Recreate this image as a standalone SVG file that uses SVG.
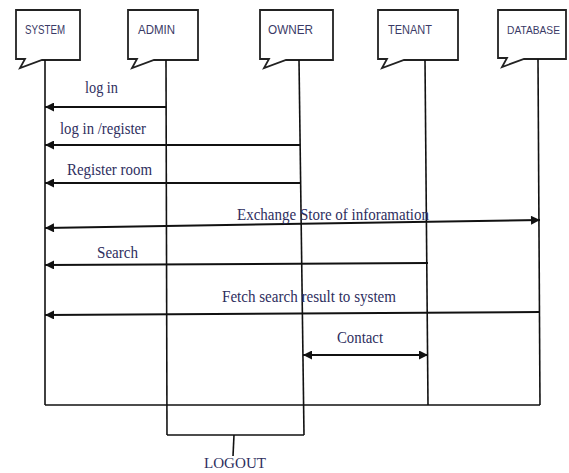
<svg xmlns="http://www.w3.org/2000/svg" width="569" height="473" viewBox="0 0 569 473">
<style>
.box{fill:#fff;stroke:#222;stroke-width:1.8;stroke-linejoin:miter}
.life{stroke:#111;stroke-width:1.6;fill:none}
.msg{stroke:#111;stroke-width:2;fill:none}
.nl{font-family:"Liberation Sans",Arial,sans-serif;font-size:13px;fill:#3a3a66}
.ml{font-family:"Liberation Serif","Times New Roman",serif;font-size:16px;fill:#2e2e5e}
</style>
<defs>
<marker id="ah" viewBox="0 0 10 10" refX="10" refY="5" markerWidth="10" markerHeight="9" markerUnits="userSpaceOnUse" orient="auto-start-reverse">
<path d="M0,0 L10,5 L0,10 Z" fill="#111"/>
</marker>
</defs>
<rect width="569" height="473" fill="#fff"/>
<g id="system">
<path class="box" d="M16,10 H80 V60 H42 L20,68 L25,59 H16 Z"/>
<text class="nl" x="25" y="34" textLength="40" lengthAdjust="spacingAndGlyphs">SYSTEM</text>
</g>
<g id="admin">
<path class="box" d="M128,10 H198 V60 H154 L132,68 L137,59 H128 Z"/>
<text class="nl" x="138" y="34" textLength="37" lengthAdjust="spacingAndGlyphs">ADMIN</text>
</g>
<g id="owner">
<path class="box" d="M260,10 H333 V60 H286 L264,68 L269,59 H260 Z"/>
<text class="nl" x="268" y="34" textLength="45" lengthAdjust="spacingAndGlyphs">OWNER</text>
</g>
<g id="tenant">
<path class="box" d="M378,10 H458 V60 H404 L382,68 L387,59 H378 Z"/>
<text class="nl" x="388" y="34" textLength="44" lengthAdjust="spacingAndGlyphs">TENANT</text>
</g>
<g id="database">
<path class="box" d="M498,10 H566 V59 H524 L502,67 L507,58 H498 Z"/>
<text class="nl" x="507" y="34" style="font-size:11px" textLength="53" lengthAdjust="spacingAndGlyphs">DATABASE</text>
</g>
<g id="lifelines">
<line class="life" x1="45" y1="60" x2="45" y2="405"/>
<line class="life" x1="166" y1="60" x2="167" y2="435"/>
<line class="life" x1="299" y1="60" x2="304" y2="435"/>
<line class="life" x1="425" y1="60" x2="428" y2="405"/>
<line class="life" x1="538" y1="59" x2="540" y2="405"/>
<line class="life" x1="45" y1="405" x2="540" y2="405"/>
<line class="life" x1="167" y1="435" x2="304" y2="435"/>
<line class="life" x1="234" y1="435" x2="233" y2="456"/>
</g>
<g id="connectors">
<line class="msg" x1="166" y1="107" x2="45" y2="107" marker-end="url(#ah)"/>
<line class="msg" x1="300" y1="145" x2="45" y2="145" marker-end="url(#ah)"/>
<line class="msg" x1="300" y1="183" x2="45" y2="183" marker-end="url(#ah)"/>
<line class="msg" x1="45" y1="228" x2="540" y2="220" marker-start="url(#ah)" marker-end="url(#ah)"/>
<line class="msg" x1="428" y1="263" x2="45" y2="265" marker-end="url(#ah)"/>
<line class="msg" x1="540" y1="312" x2="45" y2="315" marker-end="url(#ah)"/>
<line class="msg" x1="303" y1="355" x2="428" y2="355" marker-start="url(#ah)" marker-end="url(#ah)"/>
</g>
<g id="labels">
<text class="ml" x="85" y="93" textLength="33" lengthAdjust="spacingAndGlyphs">log in</text>
<text class="ml" x="60" y="134" textLength="86" lengthAdjust="spacingAndGlyphs">log in /register</text>
<text class="ml" x="67" y="175" textLength="85" lengthAdjust="spacingAndGlyphs">Register room</text>
<text class="ml" x="237" y="220" textLength="192" lengthAdjust="spacingAndGlyphs">Exchange Store of inforamation</text>
<text class="ml" x="97" y="258" textLength="41" lengthAdjust="spacingAndGlyphs">Search</text>
<text class="ml" x="222" y="302" textLength="174" lengthAdjust="spacingAndGlyphs">Fetch search result to system</text>
<text class="ml" x="337" y="343" textLength="46" lengthAdjust="spacingAndGlyphs">Contact</text>
<text class="ml" x="204" y="468" style="font-size:15px" textLength="62" lengthAdjust="spacingAndGlyphs">LOGOUT</text>
</g>
</svg>
